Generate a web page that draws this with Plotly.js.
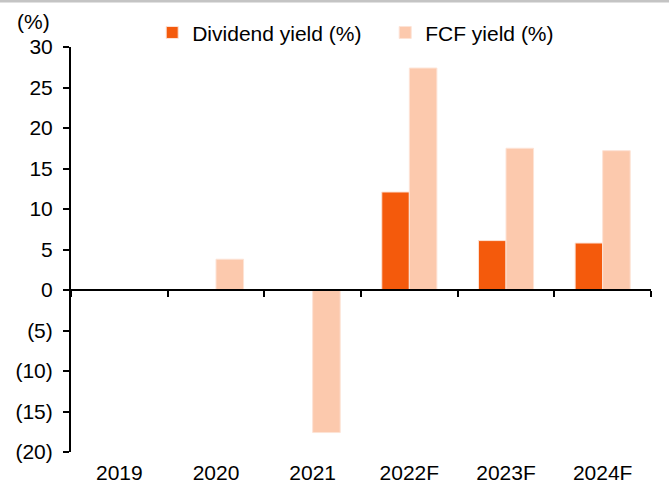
<!DOCTYPE html>
<html>
<head>
<meta charset="utf-8">
<script src="https://cdn.plot.ly/plotly-3.0.1.min.js"></script>
<style>
  body { margin: 0; background: #fff; }
  #chart { width: 669px; height: 484px; }
</style>
</head>
<body>
<div id="chart"></div>
<script>
// categories and series
var years = ['2019', '2020', '2021', '2022F', '2023F', '2024F'];
var dividendYield = [null, null, null, 12.1, 6.1, 5.8];
var fcfYield = [null, 3.8, -17.6, 27.4, 17.5, 17.2];

var yTickVals = [-20, -15, -10, -5, 0, 5, 10, 15, 20, 25, 30];
var yTickText = ['(20)', '(15)', '(10)', '(5)', '0', '5', '10', '15', '20', '25', '30'];

var fontFam = 'Arial, "Liberation Sans", sans-serif';
var fs = 21;

var traceDiv = {
    x: years,
    y: dividendYield,
    name: 'Dividend yield (%)',
    type: 'bar',
    marker: { color: '#F45A0C', line: { color: '#FDE3D6', width: 1 } }
};

var traceFcf = {
    x: years,
    y: fcfYield,
    name: 'FCF yield (%)',
    type: 'bar',
    marker: { color: '#FCC9AD', line: { color: '#FDE3D6', width: 1 } }
};

// empty trace so the zero-line axis (x2) gets drawn
var traceAxis = {
    x: years,
    y: years.map(function () { return null; }),
    xaxis: 'x2',
    type: 'bar',
    showlegend: false,
    hoverinfo: 'skip'
};

var layout = {
    width: 669,
    height: 484,
    margin: { l: 71, r: 18, t: 47, b: 32, autoexpand: false },
    paper_bgcolor: '#fff',
    plot_bgcolor: '#fff',
    font: { family: fontFam, size: fs, color: '#000' },
    barmode: 'group',
    bargap: 0.43,
    bargroupgap: 0,
    showlegend: true,
    legend: {
        orientation: 'h',
        x: 0.14, xanchor: 'left',
        y: 1.035, yanchor: 'middle',
        font: { family: fontFam, size: fs },
        entrywidth: 188,
        entrywidthmode: 'pixels',
        tracegroupgap: 0,
        bgcolor: 'rgba(0,0,0,0)'
    },
    xaxis: {
        type: 'category',
        showline: false,
        showgrid: false,
        zeroline: false,
        ticks: '',
        ticklabelstandoff: 6,
        tickfont: { family: fontFam, size: fs },
        fixedrange: true
    },
    xaxis2: {
        type: 'category',
        overlaying: 'x',
        anchor: 'free',
        position: 0.4,
        showline: true,
        linecolor: '#000',
        linewidth: 2,
        ticks: 'outside',
        tickson: 'boundaries',
        ticklen: 6,
        tickwidth: 2,
        tickcolor: '#000',
        showticklabels: false,
        showgrid: false,
        zeroline: false
    },
    yaxis: {
        range: [-20, 30],
        tickvals: yTickVals,
        ticktext: yTickText,
        showline: true,
        linecolor: '#000',
        linewidth: 2,
        ticks: 'outside',
        ticklen: 6,
        tickwidth: 2,
        tickcolor: '#000',
        ticklabelstandoff: 6,
        showgrid: false,
        zeroline: false,
        tickfont: { family: fontFam, size: fs },
        fixedrange: true
    },
    annotations: [{
        text: '(%)',
        xref: 'paper', yref: 'paper',
        x: -0.0655, y: 1.064,
        xanchor: 'center', yanchor: 'middle',
        showarrow: false,
        font: { family: fontFam, size: fs }
    }],
    shapes: [{
        type: 'rect',
        xref: 'paper', yref: 'paper',
        x0: -0.2, x1: 1.1,
        y0: 1.11, y1: 1.14,
        line: { width: 0 },
        fillcolor: '#c4c4c4'
    }]
};

Plotly.newPlot('chart', [traceDiv, traceFcf, traceAxis], layout, { displayModeBar: false, staticPlot: true });
</script>
</body>
</html>
